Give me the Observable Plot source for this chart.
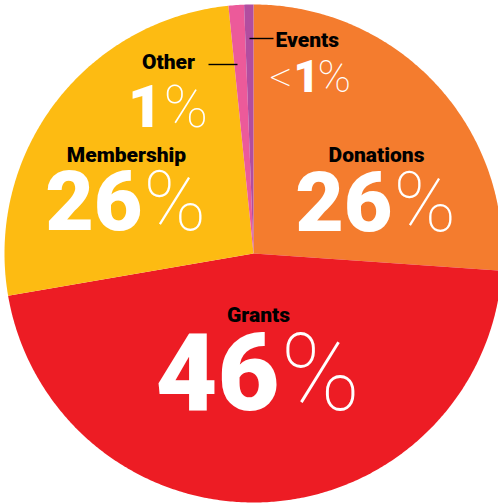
<!DOCTYPE html>
<html>
<head>
<meta charset="utf-8">
<script src="https://cdn.jsdelivr.net/npm/d3@7"></script>
<script src="https://cdn.jsdelivr.net/npm/@observablehq/plot@0.6"></script>
<style>
  html, body { margin: 0; padding: 0; background: #fff; }
  #chart svg { display: block; }
</style>
</head>
<body>
<div id="chart"></div>
<script>
// ---- data ----
const categories = ["Donations", "Grants", "Membership", "Other", "Events"];
const shares = [26, 46, 26, 1, 0.6];
const numberLabels = ["26", "46", "26", "1", "1"];
const numberPrefix = ["", "", "", "", "<"];
const colors = ["#F47C2E", "#ED1C24", "#FDBB12", "#EC5A9A", "#B24DA0"];

// ---- layout (pixels) ----
const W = 498, H = 504;
const cx = 253, cy = 253, R = 249;
const px = (x) => x - cx;          // pixel -> data x
const py = (y) => cy - y;          // pixel -> data y
const heavy = "Roboto, 'Liberation Sans', Arial, sans-serif";
const thin = "Roboto, 'Liberation Sans', Arial, sans-serif";

// name labels
const nameLayout = {
  Donations: {x: 376, y: 155, anchor: "middle"},
  Grants: {x: 258, y: 315, anchor: "middle"},
  Membership: {x: 126, y: 155, anchor: "middle"},
  Other: {x: 168, y: 62, anchor: "middle"},
  Events: {x: 275, y: 40, anchor: "start"}
};
// number labels: split = x where digits end and % starts
const numLayout = {
  Donations: {split: 392, y: 204, size: 84},
  Grants: {split: 279, y: 375, size: 107},
  Membership: {split: 142, y: 203, size: 84},
  Other: {split: 162, y: 107, size: 60},
  Events: {split: 316, y: 77, size: 45, start: 293}
};
const leaders = [
  {x1: 249, x2: 273, y: 38},
  {x1: 208, x2: 237, y: 64}
];

// ---- pie geometry from data ----
const arcs = d3.pie().sort(null).value(d => d)(shares);
const polys = [];
arcs.forEach((a, i) => {
  const cat = categories[i];
  polys.push({cat, x: 0, y: 0});
  const n = Math.max(2, Math.ceil((a.endAngle - a.startAngle) / (Math.PI / 360)));
  for (let k = 0; k <= n; k++) {
    const t = a.startAngle + (a.endAngle - a.startAngle) * k / n;
    polys.push({cat, x: R * Math.sin(t), y: R * Math.cos(t)});
  }
  polys.push({cat, x: 0, y: 0});
});

const rows = categories.map((c, i) => ({
  cat: c, num: numberLabels[i], prefix: numberPrefix[i],
  name: nameLayout[c], nl: numLayout[c]
}));

const marks = [
  Plot.line(polys, {x: "x", y: "y", z: "cat", fill: "cat", stroke: null, curve: "linear"}),
  Plot.link(leaders, {x1: d => px(d.x1), x2: d => px(d.x2), y1: d => py(d.y), y2: d => py(d.y), stroke: "#000", strokeWidth: 1.4})
];

rows.forEach(r => {
  marks.push(Plot.text([r], {
    x: d => px(d.name.x), y: d => py(d.name.y), text: d => d.cat,
    textAnchor: r.name.anchor, fill: "#000", fontSize: 21, fontWeight: 900,
    fontFamily: heavy
  }));
  const digitX = r.nl.start !== undefined ? r.nl.start : r.nl.split;
  marks.push(Plot.text([r], {
    x: () => px(digitX), y: d => py(d.nl.y), text: d => d.num,
    textAnchor: r.nl.start !== undefined ? "start" : "end",
    fill: "#fff", fontSize: r.nl.size, fontWeight: 900, fontFamily: heavy
  }));
  marks.push(Plot.text([r], {
    x: d => px(d.nl.split + 1), y: d => py(d.nl.y), text: () => "%",
    textAnchor: "start", fill: "#fff", fontSize: r.nl.size, fontWeight: 100, fontFamily: thin
  }));
  if (r.prefix) {
    marks.push(Plot.text([r], {
      x: () => px(digitX - 1), y: d => py(d.nl.y), text: d => d.prefix,
      textAnchor: "end", fill: "#fff", fontSize: r.nl.size, fontWeight: 100, fontFamily: thin
    }));
  }
});

const chart = Plot.plot({
  width: W, height: H,
  margin: 0,
  x: {domain: [-cx, W - cx], axis: null},
  y: {domain: [cy - H, cy], axis: null},
  color: {domain: categories, range: colors},
  style: {background: "#fff"},
  marks
});
document.getElementById("chart").appendChild(chart);
</script>
</body>
</html>
